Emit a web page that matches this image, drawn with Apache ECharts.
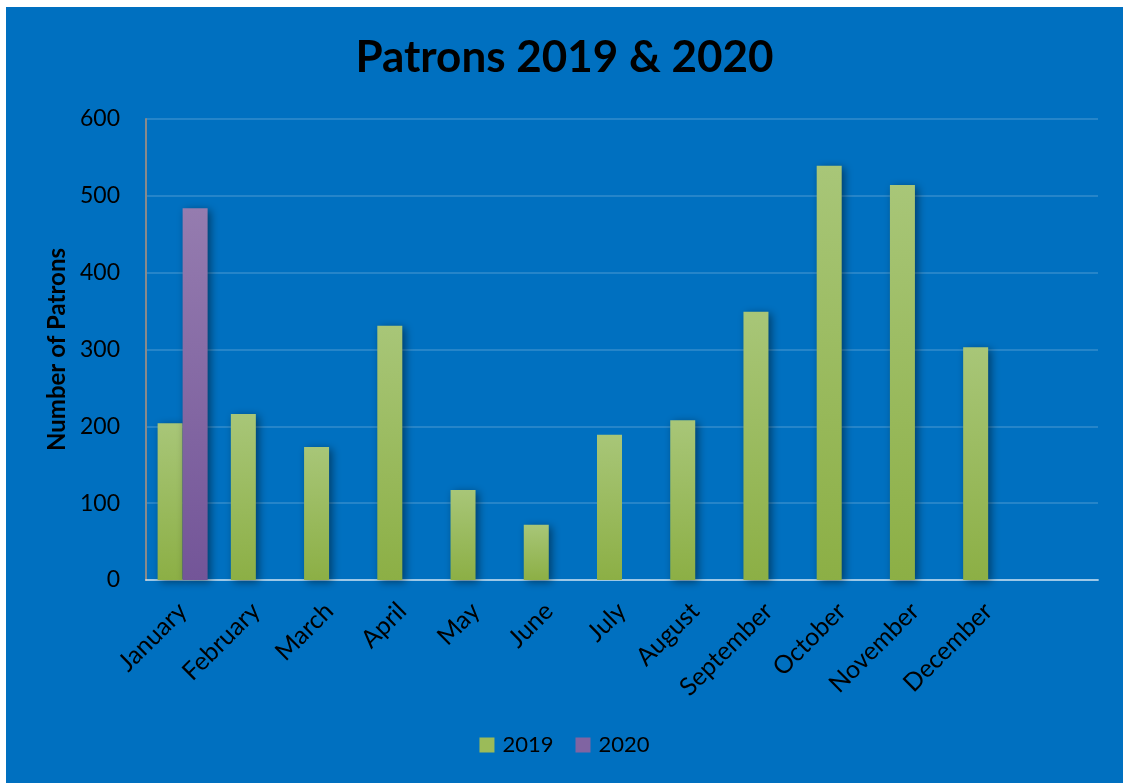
<!DOCTYPE html>
<html>
<head>
<meta charset="utf-8">
<script src="https://cdn.jsdelivr.net/npm/echarts@6/dist/echarts.min.js"></script>
<style>
  html, body { margin: 0; padding: 0; background: #fff; }
  #chart { position: absolute; left: 6px; top: 7px; width: 1117px; height: 776px; background: #0070C0; }
</style>
</head>
<body>
<div id="chart"></div>
<script>
  // months, last slot is an empty category like in the original sheet
  const months = ['January', 'February', 'March', 'April', 'May', 'June', 'July',
    'August', 'September', 'October', 'November', 'December', '']
  const patrons2019 = [204, 216, 173, 331, 117, 72, 189, 208, 349, 539, 514, 303, null]
  const patrons2020 = [484, null, null, null, null, null, null, null, null, null, null, null, null]
  const yTicks = [0, 100, 200, 300, 400, 500, 600]

  const font = 'Lato, "Open Sans", sans-serif'

  function grad(top, bottom) {
    return new echarts.graphic.LinearGradient(0, 0, 0, 1, [
      {offset: 0, color: top},
      {offset: 1, color: bottom}
    ])
  }

  const chart = echarts.init(document.getElementById('chart'))
  let option = {
    backgroundColor: '#0070C0',
    title: {
      text: 'Patrons 2019 & 2020',
      left: 'center',
      top: 24,
      textStyle: {fontFamily: font, fontSize: 44, fontWeight: 'bold', color: '#000'}
    },
    legend: {
      bottom: 22,
      left: 'center',
      itemWidth: 15,
      itemHeight: 15,
      itemGap: 22,
      icon: 'rect',
      textStyle: {fontFamily: font, fontSize: 22, color: '#000', padding: [0, 0, 0, 3]},
      data: ['2019', '2020']
    },
    grid: {left: 140, right: 25, top: 112, bottom: 203},
    xAxis: {
      type: 'category',
      data: months,
      axisLine: {lineStyle: {color: 'rgba(255,255,255,0.55)', width: 2}},
      axisTick: {show: false},
      axisLabel: {
        interval: 0,
        rotate: 45,
        margin: 27,
        fontFamily: font,
        fontSize: 25,
        color: '#000'
      }
    },
    yAxis: {
      type: 'value',
      min: yTicks[0],
      max: yTicks[yTicks.length - 1],
      interval: 100,
      name: 'Number of Patrons',
      nameLocation: 'middle',
      nameGap: 75,
      nameTextStyle: {fontFamily: font, fontSize: 24, fontWeight: 'bold', color: '#000'},
      axisLine: {show: true, lineStyle: {color: '#8a8a8a', width: 2}},
      axisTick: {show: false},
      axisLabel: {fontFamily: font, fontSize: 23, color: '#000', margin: 26},
      splitLine: {lineStyle: {color: 'rgba(255,255,255,0.15)', width: 2}}
    },
    series: [
      {
        name: '2019',
        type: 'bar',
        data: patrons2019,
        barWidth: 25,
        barGap: '0%',
        itemStyle: {
          color: grad('#A8C678', '#8CAF45'),
          shadowColor: 'rgba(0,0,0,0.45)',
          shadowBlur: 8,
          shadowOffsetX: 3,
          shadowOffsetY: 2
        }
      },
      {
        name: '2020',
        type: 'bar',
        data: patrons2020,
        barWidth: 25,
        barGap: '0%',
        itemStyle: {
          color: grad('#957CAF', '#735598'),
          shadowColor: 'rgba(0,0,0,0.45)',
          shadowBlur: 8,
          shadowOffsetX: 3,
          shadowOffsetY: 2
        }
      }
    ]
  }
  // legend icons use flat colours
  option.legend.data = [
    {name: '2019', itemStyle: {color: '#9BBB59', shadowBlur: 0}},
    {name: '2020', itemStyle: {color: '#8064A2', shadowBlur: 0}}
  ]
  chart.setOption(option)
</script>
</body>
</html>
